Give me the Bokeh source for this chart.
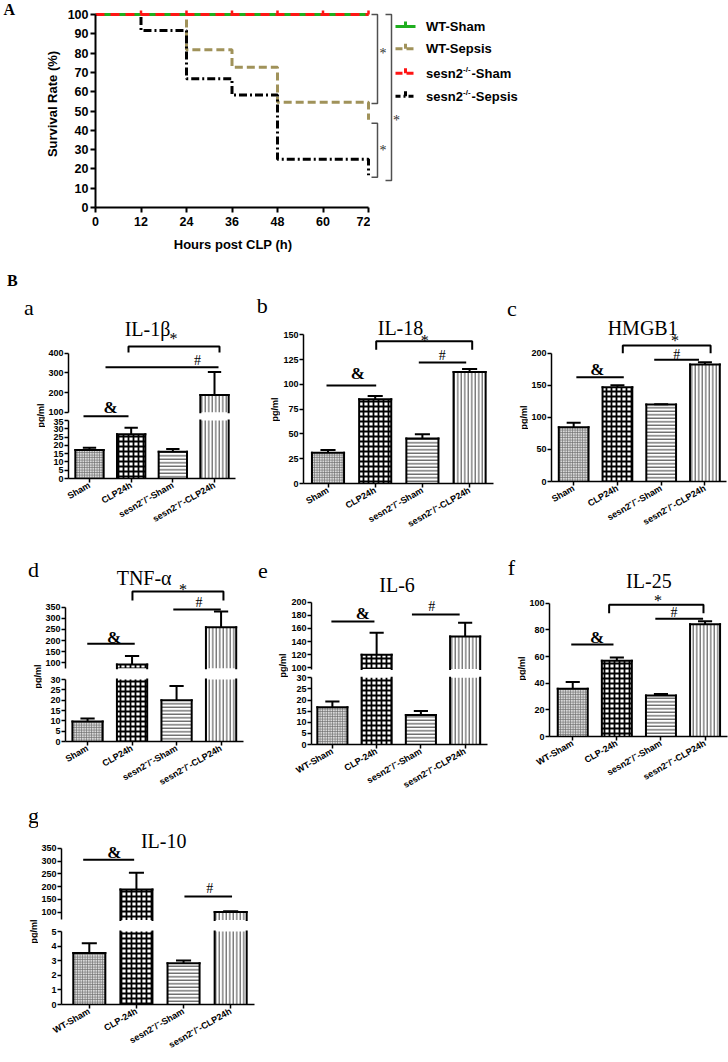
import math
from bokeh.plotting import figure
from bokeh.layouts import row, column
from bokeh.models import Range1d, FixedTicker, ColumnDataSource
from bokeh.core.properties import value, field
from bokeh.embed import file_html
from bokeh.resources import INLINE

SANS = "Liberation Sans"
SERIF = "Liberation Serif"

# ---------------- Panel A : survival data ----------------
hours_wt_sepsis = [0, 24, 36, 48, 72]
survival_wt_sepsis = [100, 81.8, 72.7, 54.5, 45.5]
hours_ko_sepsis = [0, 12, 24, 36, 48, 72]
survival_ko_sepsis = [100, 91.7, 66.7, 58.3, 25.0, 16.7]
hours_sham = [0, 72]
survival_wt_sham = [100, 100]
survival_ko_sham = [100, 100]
censor_hours = [12, 24, 36, 48, 60, 72]
hour_ticks = [0, 12, 24, 36, 48, 60, 72]
survival_ticks = [0, 10, 20, 30, 40, 50, 60, 70, 80, 90, 100]

# ---------------- Panel B : cytokine data ----------------
SUP = "\u207b/\u207b"
groups_abcd = ["Sham", "CLP24h", "sesn2" + SUP + "-Sham", "sesn2" + SUP + "-CLP24h"]
groups_efg = ["WT-Sham", "CLP-24h", "sesn2" + SUP + "-Sham", "sesn2" + SUP + "-CLP24h"]

il1b_mean = [17.2, 26.7, 16.2, 188.0]
il1b_sem = [1.4, 3.9, 1.6, 116.0]
il18_mean = [30.9, 84.9, 45.3, 112.4]
il18_sem = [3.0, 3.4, 4.4, 3.0]
hmgb1_mean = [84.7, 147.0, 120.0, 182.3]
hmgb1_sem = [6.7, 3.0, 0.5, 3.7]
tnfa_mean = [9.7, 92.0, 20.0, 260.0]
tnfa_sem = [1.4, 39.0, 6.8, 71.0]
il6_mean = [16.7, 120.0, 13.3, 147.8]
il6_sem = [2.6, 33.4, 1.8, 20.9]
il25_mean = [35.8, 56.8, 30.8, 84.3]
il25_sem = [5.0, 2.5, 1.0, 2.2]
il10_mean = [3.52, 188.7, 2.83, 101.0]
il10_sem = [0.68, 65.0, 0.18, 3.0]

# bar styles (per group)
BAR_FILL = ["#d8d8d8", "white", "white", "white"]
BAR_HATCH = ["+", "+", "-", "|"]
BAR_HSCALE = [2.5, 5.0, 3.5, 3.5]
BAR_HWEIGHT = [0.8, 1.8, 1.0, 1.0]
BAR_HCOLOR = ["#707070", "black", "#303030", "#404040"]
BAR_W = 0.68
CAP = 0.16
TICK_FS = "9px"

GREEN = "#1fae1f"
OLIVE = "#a0925a"
RED = "#ff1414"


def lin(a, b):
    (v1, y1), (v2, y2) = a, b
    k = (v2 - v1) / (y1 - y2)
    return lambda py: v1 + (y1 - py) * k


def blank(w, h, xr, yr):
    p = figure(width=w, height=h, x_range=xr, y_range=yr, output_backend="svg",
               toolbar_location=None, x_axis_location=None, y_axis_location=None,
               min_border_left=0, min_border_right=0, min_border_top=0, min_border_bottom=0)
    p.outline_line_color = None
    p.grid.visible = False
    p.background_fill_color = "white"
    p.border_fill_color = "white"
    return p


def make_fig(w, h, xr, yr, bl=0, bb=0, xaxis=False):
    p = figure(width=w, height=h, x_range=xr, y_range=yr, output_backend="svg",
               toolbar_location=None,
               x_axis_location="below" if xaxis else None, y_axis_location="left",
               min_border_left=bl, min_border_right=0, min_border_top=0, min_border_bottom=bb)
    p.outline_line_color = None
    p.grid.visible = False
    p.background_fill_color = "white"
    p.border_fill_color = "white"
    return p


def style_axis(ax, size, ticks, bounds, width=1.5, tick_out=4, standoff=1):
    ax.ticker = FixedTicker(ticks=ticks)
    ax.bounds = bounds
    ax.axis_line_width = width
    ax.axis_line_color = "black"
    ax.major_tick_line_width = width
    ax.major_tick_line_color = "black"
    ax.major_tick_in = 0
    ax.major_tick_out = tick_out
    ax.minor_tick_line_color = None
    ax.major_label_text_font = SANS
    ax.major_label_text_font_style = "bold"
    ax.major_label_text_font_size = size
    ax.major_label_text_color = "black"
    ax.major_label_standoff = standoff


def draw_bars(p, idx, bottoms, tops, closed):
    src = ColumnDataSource(dict(
        x=idx, bottom=bottoms, top=tops,
        fill=[BAR_FILL[i] for i in idx], hatch=[BAR_HATCH[i] for i in idx],
        hs=[BAR_HSCALE[i] for i in idx], hw=[BAR_HWEIGHT[i] for i in idx],
        hc=[BAR_HCOLOR[i] for i in idx]))
    p.vbar(x="x", bottom="bottom", top="top", width=BAR_W, source=src,
           fill_color=field("fill"), line_color=None, hatch_pattern=field("hatch"),
           hatch_scale="hs", hatch_weight="hw", hatch_color=field("hc"))
    x0, y0, x1, y1 = [], [], [], []
    for x, b, t, c in zip(idx, bottoms, tops, closed):
        for e in (x - BAR_W / 2, x + BAR_W / 2):
            x0.append(e); y0.append(b); x1.append(e); y1.append(t)
        if c:
            x0.append(x - BAR_W / 2); y0.append(t); x1.append(x + BAR_W / 2); y1.append(t)
    p.segment(x0=x0, y0=y0, x1=x1, y1=y1, line_color="black", line_width=2, line_cap="square")


def draw_err(p, idx, means, sems):
    if not idx:
        return
    tops = [m + e for m, e in zip(means, sems)]
    p.segment(x0=idx, y0=means, x1=idx, y1=tops, line_color="black", line_width=2)
    p.segment(x0=[x - CAP for x in idx], y0=tops, x1=[x + CAP for x in idx], y1=tops,
              line_color="black", line_width=2)


TEXT_STYLE = {
    "title": dict(text_font=value(SERIF), text_font_size="20px", dy=0),
    "star": dict(text_font=value(SERIF), text_font_size="16px", dy=3),
    "hash": dict(text_font=value(SERIF), text_font_size="14px", dy=0),
    "amp": dict(text_font=value(SERIF), text_font_size="17px", text_font_style="bold", dy=0),
}


def add_annotations(p, texts, lines):
    for kind, t, x, y in texts:
        st = dict(TEXT_STYLE[kind])
        dy = st.pop("dy")
        p.text(x=[x], y=[y + dy], text=[t], text_align="center", text_baseline="middle",
               text_color="black", x_range_name="px", y_range_name="px", **st)
    p.multi_line(xs=[[pt[0] for pt in ln] for ln in lines], ys=[[pt[1] for pt in ln] for ln in lines],
                 line_color="black", line_width=2, x_range_name="px", y_range_name="px")


def bar_panel(s):
    top, bottom, left, sw = s["top"], s["bottom"], s["left"], s["side_w"]
    side = blank(sw, bottom - top, Range1d(left, left + sw), Range1d(bottom, top))
    side.text(x=[s["letter_xy"][0]], y=[s["letter_xy"][1]], text=[s["letter"]],
              text_font=value(SERIF), text_font_size="22px", text_align="center",
              text_baseline="middle", text_color="black")
    side.text(x=[s["ylab_xy"][0]], y=[s["ylab_xy"][1]], text=["pg/ml"], angle=math.pi / 2,
              text_font=value(SANS), text_font_style="bold", text_font_size="9px",
              text_align="center", text_baseline="middle", text_color="black")
    main_left = left + sw
    bl = s["axis_x"] - main_left
    w = s["right"] - main_left
    x0 = -(s["c0"] - s["axis_x"]) / s["sp"]
    x1 = x0 + (s["right"] - s["axis_x"]) / s["sp"]
    xend = min(3.5, x1)
    means, sems = s["mean"], s["sem"]
    idx = list(range(len(means)))
    figs = []
    up = s.get("upper")
    lo = s["lower"]
    if up:
        fu = lin(*up["ref"])
        split = s["split"]
        pu = make_fig(w, split - top, Range1d(x0, x1), Range1d(fu(split), fu(top)), bl=bl)
        style_axis(pu.yaxis[0], TICK_FS, up["ticks"], (up["start"], up["bound"]))
        sel = [i for i in idx if means[i] > up["start"]]
        draw_bars(pu, sel, [up["start"]] * len(sel), [means[i] for i in sel], [True] * len(sel))
        draw_err(pu, sel, [means[i] for i in sel], [sems[i] for i in sel])
        figs.append(pu)
        ann, ann_bottom = pu, split
        low_top = split
    else:
        low_top = top
    fl = lin(*lo["ref"])
    pl = make_fig(w, bottom - low_top, Range1d(x0, x1), Range1d(0, fl(low_top)),
                  bl=bl, bb=bottom - s["p0"], xaxis=True)
    style_axis(pl.yaxis[0], TICK_FS, lo["ticks"], (0, lo["bound"]))
    xa = pl.xaxis[0]
    style_axis(xa, "9px", idx, (x0, xend), standoff=2)
    xa.major_label_overrides = {i: g for i, g in zip(idx, s["groups"])}
    xa.major_label_orientation = math.pi / 6
    if up:
        ltops = [min(m, lo["bound"]) for m in means]
        closed = [m <= lo["bound"] for m in means]
        low_err = [i for i in idx if means[i] <= up["start"]]
    else:
        ltops = list(means)
        closed = [True] * len(means)
        low_err = idx
        ann, ann_bottom = pl, s["p0"]
    draw_bars(pl, idx, [0] * len(idx), ltops, closed)
    draw_err(pl, low_err, [means[i] for i in low_err], [sems[i] for i in low_err])
    figs.append(pl)
    ann.extra_x_ranges = {"px": Range1d(s["axis_x"], s["right"])}
    ann.extra_y_ranges = {"px": Range1d(ann_bottom, top)}
    add_annotations(ann, s["texts"], s["lines"])
    return row(column(side), column(*figs))


# ---------------- Panel A ----------------
pxh = (368 - 95) / 72.0
pxs = (207 - 14) / 100.0
A_H = 293
sideA = blank(39, A_H, Range1d(0, 39), Range1d(A_H, 0))
sideA.text(x=[3], y=[0], text=["A"], text_font=value(SERIF), text_font_style="bold",
           text_font_size="16px", text_align="left", text_baseline="top", text_color="black")
sideA.text(x=[6.5], y=[280], text=["B"], text_font=value(SERIF), text_font_style="bold",
           text_font_size="16px", text_align="left", text_baseline="middle", text_color="black")

mainA = make_fig(331, A_H, Range1d(0, 275 / pxh), Range1d(0, 207 / pxs), bl=56, bb=A_H - 207, xaxis=True)
xa = mainA.xaxis[0]
style_axis(xa, "12.5px", hour_ticks, (0, 72), width=2, tick_out=5, standoff=4)
xa.axis_label = "Hours post CLP (h)"
ya = mainA.yaxis[0]
style_axis(ya, "12.5px", survival_ticks, (0, 100), width=2, tick_out=5, standoff=2)
ya.axis_label = "Survival Rate (%)"
for ax in (xa, ya):
    ax.axis_label_text_font = SANS
    ax.axis_label_text_font_style = "bold"
    ax.axis_label_text_font_size = "13px"
    ax.axis_label_text_color = "black"
xa.axis_label_standoff = 8
ya.axis_label_standoff = 5

mainA.step(hours_wt_sepsis, survival_wt_sepsis, mode="after", line_color=OLIVE, line_width=3, line_dash="8 4")
mainA.step(hours_ko_sepsis, survival_ko_sepsis, mode="after", line_color="black", line_width=3, line_dash="8 3 2 3")
mainA.step(hours_sham, survival_wt_sham, mode="after", line_color=GREEN, line_width=3)
mainA.step(hours_sham, survival_ko_sham, mode="after", line_color=RED, line_width=3, line_dash="9 6")
tick_len = 4 / pxs
mainA.segment(x0=censor_hours, y0=[survival_ko_sham[-1]] * len(censor_hours), x1=censor_hours,
              y1=[survival_ko_sham[-1] + tick_len] * len(censor_hours), line_color=RED, line_width=2.5)

legA = blank(358, A_H, Range1d(370, 728), Range1d(A_H, 0))
leg_rows = [26, 48.3, 72.7, 95.7]
leg_colors = [GREEN, OLIVE, RED, "black"]
leg_dash = ["solid", "7 4", "7 4", "5 3 2 3"]
for yy, c, d in zip(leg_rows, leg_colors, leg_dash):
    legA.segment(x0=[395], y0=[yy], x1=[415], y1=[yy], line_color=c, line_width=3, line_dash=d)
    legA.segment(x0=[405], y0=[yy], x1=[405], y1=[yy - 5], line_color=c, line_width=3)
lt = dict(text_font=value(SANS), text_font_style="bold", text_font_size="13px",
          text_align="left", text_baseline="middle", text_color="black")
legA.text(x=[425.5, 425.5], y=leg_rows[:2], text=["WT-Sham", "WT-Sepsis"], **lt)
legA.text(x=[425.5, 425.5], y=leg_rows[2:], text=["sesn2", "sesn2"], **lt)
legA.text(x=[462.5, 462.5], y=[leg_rows[2] - 4, leg_rows[3] - 4], text=["-/-", "-/-"],
          text_font=value(SANS), text_font_style="bold", text_font_size="8px",
          text_align="left", text_baseline="middle", text_color="black")
legA.text(x=[471, 471], y=leg_rows[2:], text=["-Sham", "-Sepsis"], **lt)
brackets = [[(371, 14), (377, 14), (377, 103), (371, 103)],
            [(371, 122.7), (377, 122.7), (377, 176.7), (371, 176.7)],
            [(385, 14), (391, 14), (391, 180), (385, 180)]]
legA.multi_line(xs=[[p[0] for p in b] for b in brackets], ys=[[p[1] for p in b] for b in brackets],
                line_color="#505050", line_width=1.5)
legA.text(x=[382.5, 382.5, 396], y=[53, 150, 120], text=["*", "*", "*"], text_font=value(SERIF),
          text_font_size="14px", text_align="center", text_baseline="middle", text_color="#303030")

# ---------------- Panel B specs ----------------
pa = dict(letter="a", groups=groups_abcd, mean=il1b_mean, sem=il1b_sem,
          left=0, side_w=45, right=245, axis_x=68, c0=89, sp=41.67, top=293, bottom=545,
          upper=dict(ref=((100, 411.7), (400, 352.7)), start=100, bound=400, ticks=[100, 200, 300, 400]),
          lower=dict(ref=((0, 478), (35, 420)), bound=35, ticks=[0, 5, 10, 15, 20, 25, 30, 35]),
          split=418, p0=478, letter_xy=(28.5, 306.5), ylab_xy=(40, 415),
          texts=[("title", "IL-1\u03b2", 147, 328), ("star", "*", 173, 335), ("hash", "#", 197, 360),
                 ("amp", "&", 110, 406.5)],
          lines=[[(128, 352), (128, 346), (219, 346), (219, 352)], [(105, 366.7), (218, 366.7)],
                 [(83, 415.7), (128, 415.7)]])

pb = dict(letter="b", groups=groups_abcd, mean=il18_mean, sem=il18_sem,
          left=245, side_w=35, right=495, axis_x=303, c0=327.5, sp=47.2, top=293, bottom=545,
          lower=dict(ref=((0, 483), (150, 334.3)), bound=150, ticks=[0, 25, 50, 75, 100, 125, 150]),
          p0=483, letter_xy=(261.7, 305), ylab_xy=(274, 409),
          texts=[("title", "IL-18", 400, 327), ("star", "*", 424.3, 337), ("hash", "#", 441.7, 355),
                 ("amp", "&", 357.3, 372.5)],
          lines=[[(375.7, 349.3), (375.7, 340.7), (471.7, 340.7), (471.7, 349.3)],
                 [(418.3, 362), (465.7, 362)], [(326, 385), (375.7, 385)]])

pc = dict(letter="c", groups=groups_abcd, mean=hmgb1_mean, sem=hmgb1_sem,
          left=495, side_w=33, right=728, axis_x=550, c0=572.3, sp=44, top=293, bottom=545,
          lower=dict(ref=((0, 481), (200, 352.7)), bound=200, ticks=[0, 50, 100, 150, 200]),
          p0=481, letter_xy=(511.3, 308), ylab_xy=(523.5, 417),
          texts=[("title", "HMGB1", 641.7, 327), ("star", "*", 674.3, 337), ("hash", "#", 676, 354),
                 ("amp", "&", 596, 369.3)],
          lines=[[(621.7, 352.7), (621.7, 345), (710, 345), (710, 352.7)],
                 [(653.3, 359.3), (698.3, 359.3)], [(575, 376.7), (622.7, 376.7)]])

pd_ = dict(letter="d", groups=groups_abcd, mean=tnfa_mean, sem=tnfa_sem,
           left=0, side_w=42, right=245, axis_x=63, c0=85.3, sp=45, top=545, bottom=803,
           upper=dict(ref=((100, 662.3), (350, 606.7)), start=75, bound=350,
                      ticks=[100, 150, 200, 250, 300, 350]),
           lower=dict(ref=((0, 741), (30, 679)), bound=30, ticks=[0, 5, 10, 15, 20, 25, 30]),
           split=673, p0=741, letter_xy=(33, 569), ylab_xy=(37.5, 676),
           texts=[("title", "TNF-\u03b1", 142.5, 577), ("star", "*", 181.7, 586), ("hash", "#", 198, 602),
                  ("amp", "&", 112, 637)],
           lines=[[(130.7, 600), (130.7, 591), (222.7, 591), (222.7, 600)], [(172, 609), (220, 609)],
                  [(85, 643.3), (133, 643.3)]])

pe = dict(letter="e", groups=groups_efg, mean=il6_mean, sem=il6_sem,
          left=245, side_w=43, right=490, axis_x=310, c0=331, sp=44.5, top=545, bottom=803,
          upper=dict(ref=((100, 667.3), (200, 601.7)), start=98, bound=200,
                     ticks=[100, 120, 140, 160, 180, 200]),
          lower=dict(ref=((0, 744), (30, 677.3)), bound=30, ticks=[0, 5, 10, 15, 20, 25, 30]),
          split=672, p0=744, letter_xy=(262.5, 570), ylab_xy=(282, 665),
          texts=[("title", "IL-6", 396, 584), ("hash", "#", 431, 606), ("amp", "&", 361.7, 613)],
          lines=[[(411, 614), (459, 614)], [(330, 621), (373.3, 621)]])

pf = dict(letter="f", groups=groups_efg, mean=il25_mean, sem=il25_sem,
          left=490, side_w=36, right=728, axis_x=547, c0=570.5, sp=44.6, top=545, bottom=803,
          lower=dict(ref=((0, 736), (100, 602.7)), bound=100, ticks=[0, 20, 40, 60, 80, 100]),
          p0=736, letter_xy=(511, 567), ylab_xy=(521, 668),
          texts=[("title", "IL-25", 647.5, 580), ("star", "*", 656.7, 597), ("hash", "#", 673, 611.7),
                 ("amp", "&", 595, 636.7)],
          lines=[[(607.3, 612.7), (607.3, 604.3), (702.7, 604.3), (702.7, 612.7)],
                 [(654, 618.3), (702.3, 618.3)], [(569, 644), (611.7, 644)]])

pg = dict(letter="g", groups=groups_efg, mean=il10_mean, sem=il10_sem,
          left=0, side_w=38, right=270, axis_x=58, c0=86.2, sp=47.8, top=803, bottom=1062,
          upper=dict(ref=((100, 911.7), (350, 847.7)), start=70, bound=350,
                     ticks=[100, 150, 200, 250, 300, 350]),
          lower=dict(ref=((0, 1004), (5, 931)), bound=5, ticks=[0, 1, 2, 3, 4, 5]),
          split=925, p0=1004, letter_xy=(33, 815), ylab_xy=(33.5, 931),
          texts=[("title", "IL-10", 161.7, 840), ("amp", "&", 111.7, 851.7), ("hash", "#", 208.3, 888.3)],
          lines=[[(80, 859.3), (131.7, 859.3)], [(182.7, 896), (231, 896)]])

layout = column(
    row(column(sideA), column(mainA), column(legA)),
    row(bar_panel(pa), bar_panel(pb), bar_panel(pc)),
    row(bar_panel(pd_), bar_panel(pe), bar_panel(pf)),
    row(bar_panel(pg)),
)

open("out.html", "w").write(file_html(layout, INLINE))
